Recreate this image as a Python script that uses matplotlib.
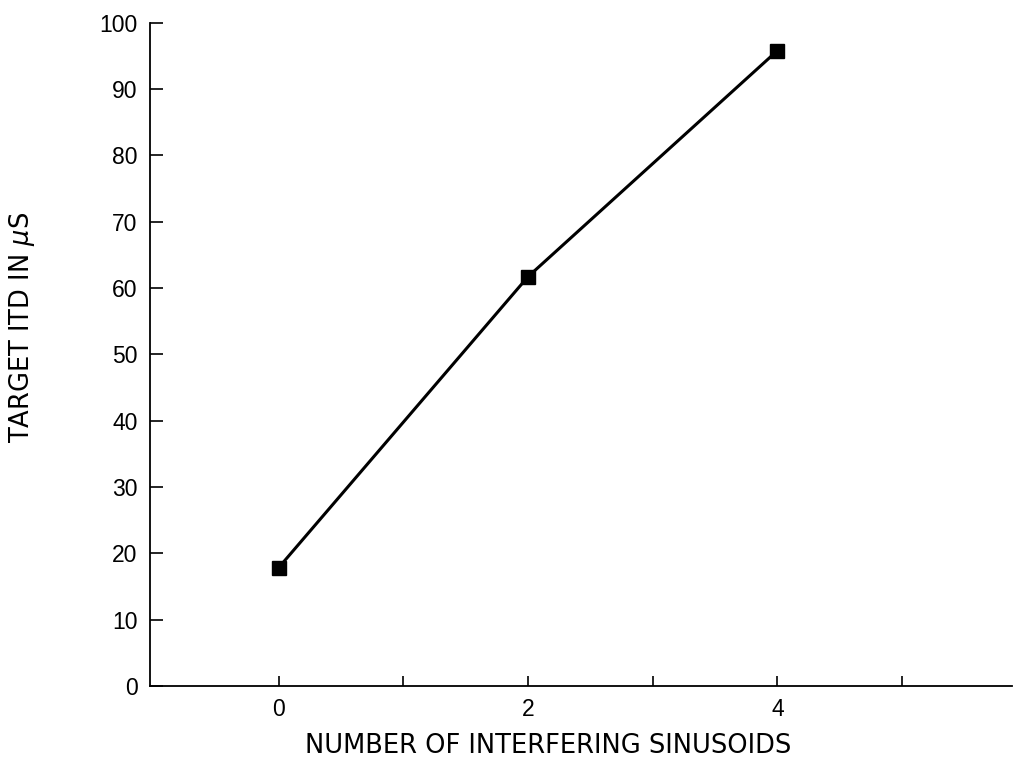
import numpy as np
import matplotlib.pyplot as plt

plt.rcParams['font.family'] = ['Liberation Sans', 'DejaVu Sans']
plt.rcParams['mathtext.fontset'] = 'dejavusans'

# Target ITD against number of interfering sinusoids
n_sin = [0, 2, 4]
itd_us = [17.8, 61.7, 95.8]

xticks = [0, 1, 2, 3, 4, 5]
xtick_labels = ['0', '', '2', '', '4', '']
yticks = list(range(0, 101, 10))

fig = plt.figure(figsize=(10.14, 7.57), dpi=100)
ax = fig.add_axes([0.148, 0.094, 0.85, 0.876])

ax.plot(n_sin, itd_us, color='black', lw=2.2, marker='s', markersize=9.5,
        markerfacecolor='black', markeredgecolor='black')

ax.set_xlim(-1.03, 5.88)
ax.set_ylim(0, 100)
ax.set_xticks(xticks)
ax.set_xticklabels(xtick_labels)
ax.set_yticks(yticks)

for s in ['top', 'right']:
    ax.spines[s].set_visible(False)
for s in ['left', 'bottom']:
    ax.spines[s].set_linewidth(1.3)

ax.tick_params(axis='y', direction='in', length=9, width=1.2, pad=9, labelsize=16.5)
ax.tick_params(axis='x', direction='in', length=7, width=1.2, pad=9, labelsize=16.5)

fig.text(0.541, 0.015, 'NUMBER OF INTERFERING SINUSOIDS', ha='center', va='center',
         fontsize=18.5, family='DejaVu Sans')
fig.text(0.022, 0.568, r'TARGET ITD IN $\mu$S', rotation=90, ha='center', va='center',
         fontsize=18.5, family='DejaVu Sans')

fig.savefig('out.png', dpi=100)
